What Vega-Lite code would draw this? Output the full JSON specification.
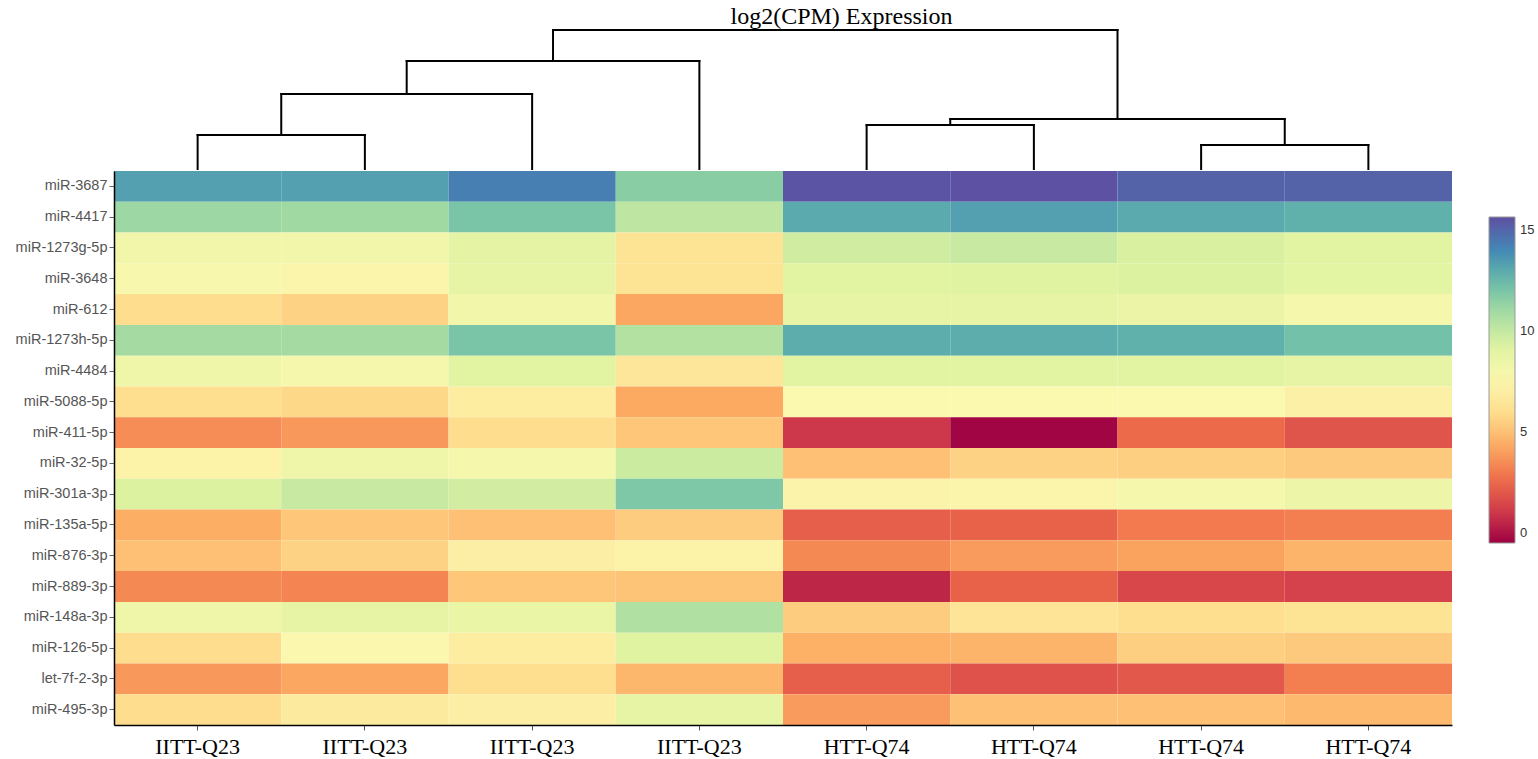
{
  "$schema": "https://vega.github.io/schema/vega-lite/v6.json",
  "background": "white",
  "padding": {"left": 4, "top": 4, "right": 5, "bottom": 0},
  "title": {"text": "log2(CPM) Expression", "font": "Liberation Serif", "fontSize": 24, "fontWeight": "normal", "color": "#000", "anchor": "middle", "dx": 72, "offset": 0},
  "spacing": 0,
  "datasets": {
    "tree": [
      {"x1": 1, "x2": 2, "h1": 3.4, "h2": 3.4},
      {"x1": 1.5, "x2": 3, "h1": 7.5, "h2": 7.5},
      {"x1": 2.25, "x2": 4, "h1": 10.8, "h2": 10.8},
      {"x1": 3.125, "x2": 6.5, "h1": 13.9, "h2": 13.9},
      {"x1": 5, "x2": 6, "h1": 4.4, "h2": 4.4},
      {"x1": 7, "x2": 8, "h1": 2.4, "h2": 2.4},
      {"x1": 5.5, "x2": 7.5, "h1": 5.0, "h2": 5.0},
      {"x1": 1, "x2": 1, "h1": 0, "h2": 3.4},
      {"x1": 2, "x2": 2, "h1": 0, "h2": 3.4},
      {"x1": 1.5, "x2": 1.5, "h1": 3.4, "h2": 7.5},
      {"x1": 3, "x2": 3, "h1": 0, "h2": 7.5},
      {"x1": 2.25, "x2": 2.25, "h1": 7.5, "h2": 10.8},
      {"x1": 4, "x2": 4, "h1": 0, "h2": 10.8},
      {"x1": 3.125, "x2": 3.125, "h1": 10.8, "h2": 13.9},
      {"x1": 5, "x2": 5, "h1": 0, "h2": 4.4},
      {"x1": 6, "x2": 6, "h1": 0, "h2": 4.4},
      {"x1": 5.5, "x2": 5.5, "h1": 4.4, "h2": 5.0},
      {"x1": 7, "x2": 7, "h1": 0, "h2": 2.4},
      {"x1": 8, "x2": 8, "h1": 0, "h2": 2.4},
      {"x1": 7.5, "x2": 7.5, "h1": 2.4, "h2": 5.0},
      {"x1": 6.5, "x2": 6.5, "h1": 5.0, "h2": 13.9}
    ],
    "expr": [
      {"gene": "miR-3687", "sample": 1, "value": 13.3}, {"gene": "miR-3687", "sample": 2, "value": 13.3}, {"gene": "miR-3687", "sample": 3, "value": 14.3}, {"gene": "miR-3687", "sample": 4, "value": 11.6}, {"gene": "miR-3687", "sample": 5, "value": 15.5}, {"gene": "miR-3687", "sample": 6, "value": 15.6}, {"gene": "miR-3687", "sample": 7, "value": 15.1}, {"gene": "miR-3687", "sample": 8, "value": 15.1},
      {"gene": "miR-4417", "sample": 1, "value": 11.1}, {"gene": "miR-4417", "sample": 2, "value": 11.0}, {"gene": "miR-4417", "sample": 3, "value": 12.0}, {"gene": "miR-4417", "sample": 4, "value": 10.2}, {"gene": "miR-4417", "sample": 5, "value": 13.0}, {"gene": "miR-4417", "sample": 6, "value": 13.3}, {"gene": "miR-4417", "sample": 7, "value": 13.0}, {"gene": "miR-4417", "sample": 8, "value": 12.8},
      {"gene": "miR-1273g-5p", "sample": 1, "value": 8.2}, {"gene": "miR-1273g-5p", "sample": 2, "value": 8.2}, {"gene": "miR-1273g-5p", "sample": 3, "value": 8.9}, {"gene": "miR-1273g-5p", "sample": 4, "value": 6.3}, {"gene": "miR-1273g-5p", "sample": 5, "value": 9.7}, {"gene": "miR-1273g-5p", "sample": 6, "value": 9.9}, {"gene": "miR-1273g-5p", "sample": 7, "value": 9.4}, {"gene": "miR-1273g-5p", "sample": 8, "value": 9.1},
      {"gene": "miR-3648", "sample": 1, "value": 7.8}, {"gene": "miR-3648", "sample": 2, "value": 7.4}, {"gene": "miR-3648", "sample": 3, "value": 8.8}, {"gene": "miR-3648", "sample": 4, "value": 6.3}, {"gene": "miR-3648", "sample": 5, "value": 9.1}, {"gene": "miR-3648", "sample": 6, "value": 9.2}, {"gene": "miR-3648", "sample": 7, "value": 9.3}, {"gene": "miR-3648", "sample": 8, "value": 9.0},
      {"gene": "miR-612", "sample": 1, "value": 6.0}, {"gene": "miR-612", "sample": 2, "value": 5.6}, {"gene": "miR-612", "sample": 3, "value": 8.2}, {"gene": "miR-612", "sample": 4, "value": 4.2}, {"gene": "miR-612", "sample": 5, "value": 8.8}, {"gene": "miR-612", "sample": 6, "value": 8.8}, {"gene": "miR-612", "sample": 7, "value": 8.5}, {"gene": "miR-612", "sample": 8, "value": 8.0},
      {"gene": "miR-1273h-5p", "sample": 1, "value": 10.9}, {"gene": "miR-1273h-5p", "sample": 2, "value": 10.9}, {"gene": "miR-1273h-5p", "sample": 3, "value": 12.0}, {"gene": "miR-1273h-5p", "sample": 4, "value": 10.5}, {"gene": "miR-1273h-5p", "sample": 5, "value": 12.9}, {"gene": "miR-1273h-5p", "sample": 6, "value": 12.9}, {"gene": "miR-1273h-5p", "sample": 7, "value": 12.8}, {"gene": "miR-1273h-5p", "sample": 8, "value": 12.2},
      {"gene": "miR-4484", "sample": 1, "value": 8.3}, {"gene": "miR-4484", "sample": 2, "value": 8.0}, {"gene": "miR-4484", "sample": 3, "value": 9.1}, {"gene": "miR-4484", "sample": 4, "value": 6.5}, {"gene": "miR-4484", "sample": 5, "value": 9.1}, {"gene": "miR-4484", "sample": 6, "value": 9.1}, {"gene": "miR-4484", "sample": 7, "value": 9.1}, {"gene": "miR-4484", "sample": 8, "value": 8.8},
      {"gene": "miR-5088-5p", "sample": 1, "value": 6.1}, {"gene": "miR-5088-5p", "sample": 2, "value": 5.8}, {"gene": "miR-5088-5p", "sample": 3, "value": 6.9}, {"gene": "miR-5088-5p", "sample": 4, "value": 4.3}, {"gene": "miR-5088-5p", "sample": 5, "value": 7.6}, {"gene": "miR-5088-5p", "sample": 6, "value": 7.6}, {"gene": "miR-5088-5p", "sample": 7, "value": 7.6}, {"gene": "miR-5088-5p", "sample": 8, "value": 7.1},
      {"gene": "miR-411-5p", "sample": 1, "value": 3.5}, {"gene": "miR-411-5p", "sample": 2, "value": 3.8}, {"gene": "miR-411-5p", "sample": 3, "value": 6.0}, {"gene": "miR-411-5p", "sample": 4, "value": 5.2}, {"gene": "miR-411-5p", "sample": 5, "value": 1.0}, {"gene": "miR-411-5p", "sample": 6, "value": -0.4}, {"gene": "miR-411-5p", "sample": 7, "value": 2.5}, {"gene": "miR-411-5p", "sample": 8, "value": 1.9},
      {"gene": "miR-32-5p", "sample": 1, "value": 7.2}, {"gene": "miR-32-5p", "sample": 2, "value": 8.3}, {"gene": "miR-32-5p", "sample": 3, "value": 8.0}, {"gene": "miR-32-5p", "sample": 4, "value": 9.8}, {"gene": "miR-32-5p", "sample": 5, "value": 5.0}, {"gene": "miR-32-5p", "sample": 6, "value": 5.6}, {"gene": "miR-32-5p", "sample": 7, "value": 5.5}, {"gene": "miR-32-5p", "sample": 8, "value": 5.3},
      {"gene": "miR-301a-3p", "sample": 1, "value": 9.3}, {"gene": "miR-301a-3p", "sample": 2, "value": 9.9}, {"gene": "miR-301a-3p", "sample": 3, "value": 9.6}, {"gene": "miR-301a-3p", "sample": 4, "value": 11.9}, {"gene": "miR-301a-3p", "sample": 5, "value": 7.3}, {"gene": "miR-301a-3p", "sample": 6, "value": 7.4}, {"gene": "miR-301a-3p", "sample": 7, "value": 8.0}, {"gene": "miR-301a-3p", "sample": 8, "value": 8.4},
      {"gene": "miR-135a-5p", "sample": 1, "value": 4.4}, {"gene": "miR-135a-5p", "sample": 2, "value": 5.2}, {"gene": "miR-135a-5p", "sample": 3, "value": 5.0}, {"gene": "miR-135a-5p", "sample": 4, "value": 5.4}, {"gene": "miR-135a-5p", "sample": 5, "value": 2.2}, {"gene": "miR-135a-5p", "sample": 6, "value": 2.3}, {"gene": "miR-135a-5p", "sample": 7, "value": 3.0}, {"gene": "miR-135a-5p", "sample": 8, "value": 3.1},
      {"gene": "miR-876-3p", "sample": 1, "value": 5.0}, {"gene": "miR-876-3p", "sample": 2, "value": 5.6}, {"gene": "miR-876-3p", "sample": 3, "value": 7.0}, {"gene": "miR-876-3p", "sample": 4, "value": 7.2}, {"gene": "miR-876-3p", "sample": 5, "value": 3.4}, {"gene": "miR-876-3p", "sample": 6, "value": 3.9}, {"gene": "miR-876-3p", "sample": 7, "value": 4.1}, {"gene": "miR-876-3p", "sample": 8, "value": 4.6},
      {"gene": "miR-889-3p", "sample": 1, "value": 3.4}, {"gene": "miR-889-3p", "sample": 2, "value": 3.3}, {"gene": "miR-889-3p", "sample": 3, "value": 5.2}, {"gene": "miR-889-3p", "sample": 4, "value": 5.1}, {"gene": "miR-889-3p", "sample": 5, "value": 0.5}, {"gene": "miR-889-3p", "sample": 6, "value": 2.3}, {"gene": "miR-889-3p", "sample": 7, "value": 1.5}, {"gene": "miR-889-3p", "sample": 8, "value": 1.3},
      {"gene": "miR-148a-3p", "sample": 1, "value": 8.3}, {"gene": "miR-148a-3p", "sample": 2, "value": 8.8}, {"gene": "miR-148a-3p", "sample": 3, "value": 8.6}, {"gene": "miR-148a-3p", "sample": 4, "value": 10.6}, {"gene": "miR-148a-3p", "sample": 5, "value": 5.4}, {"gene": "miR-148a-3p", "sample": 6, "value": 6.4}, {"gene": "miR-148a-3p", "sample": 7, "value": 6.1}, {"gene": "miR-148a-3p", "sample": 8, "value": 6.3},
      {"gene": "miR-126-5p", "sample": 1, "value": 6.0}, {"gene": "miR-126-5p", "sample": 2, "value": 7.5}, {"gene": "miR-126-5p", "sample": 3, "value": 6.9}, {"gene": "miR-126-5p", "sample": 4, "value": 9.2}, {"gene": "miR-126-5p", "sample": 5, "value": 4.5}, {"gene": "miR-126-5p", "sample": 6, "value": 4.6}, {"gene": "miR-126-5p", "sample": 7, "value": 5.5}, {"gene": "miR-126-5p", "sample": 8, "value": 5.3},
      {"gene": "let-7f-2-3p", "sample": 1, "value": 3.8}, {"gene": "let-7f-2-3p", "sample": 2, "value": 4.2}, {"gene": "let-7f-2-3p", "sample": 3, "value": 6.1}, {"gene": "let-7f-2-3p", "sample": 4, "value": 4.7}, {"gene": "let-7f-2-3p", "sample": 5, "value": 2.2}, {"gene": "let-7f-2-3p", "sample": 6, "value": 1.8}, {"gene": "let-7f-2-3p", "sample": 7, "value": 2.0}, {"gene": "let-7f-2-3p", "sample": 8, "value": 3.1},
      {"gene": "miR-495-3p", "sample": 1, "value": 6.0}, {"gene": "miR-495-3p", "sample": 2, "value": 6.8}, {"gene": "miR-495-3p", "sample": 3, "value": 7.0}, {"gene": "miR-495-3p", "sample": 4, "value": 8.8}, {"gene": "miR-495-3p", "sample": 5, "value": 3.9}, {"gene": "miR-495-3p", "sample": 6, "value": 5.0}, {"gene": "miR-495-3p", "sample": 7, "value": 5.0}, {"gene": "miR-495-3p", "sample": 8, "value": 4.8}
    ]
  },
  "vconcat": [
    {
      "width": 1338,
      "height": 139,
      "data": {"name": "tree"},
      "mark": {"type": "rule", "stroke": "#000", "strokeWidth": 2, "strokeCap": "square"},
      "encoding": {
        "x": {"field": "x1", "type": "quantitative", "scale": {"domain": [0.5, 8.5], "nice": false, "zero": false}, "axis": null},
        "x2": {"field": "x2"},
        "y": {"field": "h1", "type": "quantitative", "scale": {"domain": [0, 13.9], "nice": false, "zero": false}, "axis": null},
        "y2": {"field": "h2"}
      }
    },
    {
      "width": 1338,
      "height": 554,
      "data": {"name": "expr"},
      "mark": {"type": "rect"},
      "encoding": {
        "x": {
          "field": "sample", "type": "ordinal",
          "scale": {"paddingInner": 0, "paddingOuter": 0},
          "axis": {"title": null, "labelExpr": "datum.value <= 4 ? 'IITT-Q23' : 'HTT-Q74'", "labelFont": "Liberation Serif", "labelFontSize": 22, "labelColor": "#000", "labelAngle": 0, "tickSize": 5, "tickColor": "#555", "domainColor": "#000", "domainWidth": 1.5, "labelPadding": 6}
        },
        "y": {
          "field": "gene", "type": "nominal", "sort": null,
          "scale": {"paddingInner": 0, "paddingOuter": 0},
          "axis": {"title": null, "labelFont": "Liberation Sans", "labelFontSize": 14.5, "labelColor": "#555", "tickColor": "#666", "tickSize": 5, "domainColor": "#000", "domainWidth": 1.5, "minExtent": 110, "maxExtent": 110, "labelPadding": 2}
        },
        "color": {
          "field": "value", "type": "quantitative",
          "scale": {"scheme": "spectral", "domain": [-0.5, 15.65], "nice": false},
          "legend": {"orient": "none", "legendX": 1375, "legendY": 187, "title": null, "gradientLength": 326, "gradientThickness": 26, "values": [0, 5, 10, 15], "labelFont": "Liberation Sans", "labelFontSize": 13, "labelColor": "#333", "labelOffset": 5, "gradientStrokeColor": "#999", "gradientStrokeWidth": 1}
        }
      }
    }
  ],
  "resolve": {"scale": {"x": "independent", "y": "independent"}},
  "config": {"view": {"stroke": null}}
}
